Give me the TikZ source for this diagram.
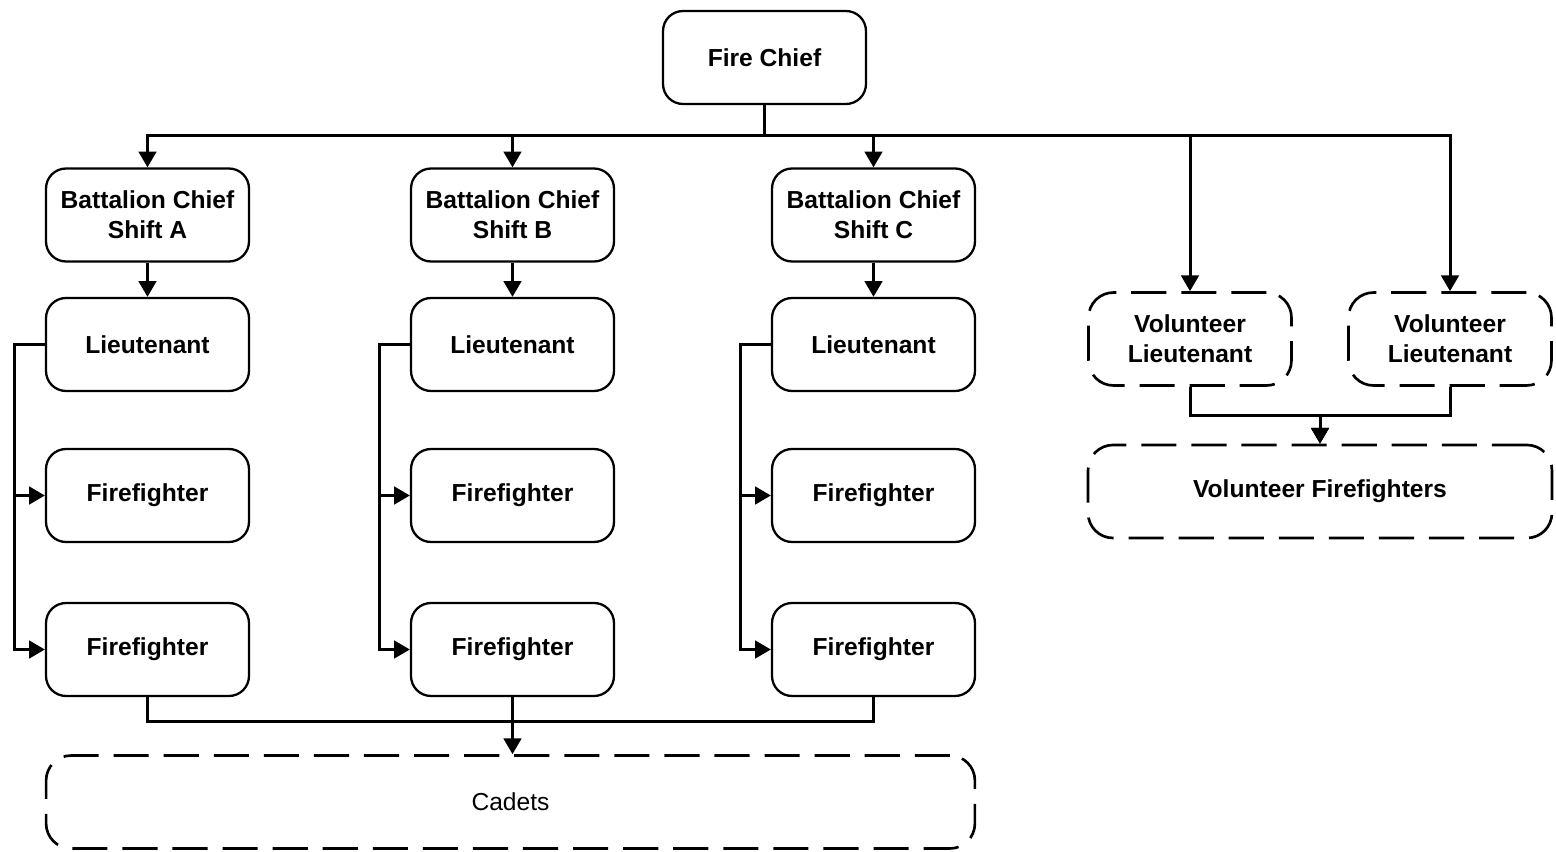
\documentclass[tikz,border=0pt]{standalone}
\usepackage{fontspec}
\setmainfont{Liberation Sans}
\usetikzlibrary{arrows.meta}
\begin{document}
\begin{tikzpicture}[x=.02cm,y=-.02cm,
	box/.style={draw,line width=1.3pt,rounded corners=.4cm,minimum width=4.06cm,minimum height=1.86cm,align=center,font=\fontsize{14}{17}\selectfont\bfseries},
	vbox/.style={box,dash pattern=on 20pt off 8.5pt,line width=1.5pt,rounded corners=.5cm},
	line/.style={line width=1.7pt},
	arr/.style={line,-{Triangle[length=9pt,width=10pt]}}]
	\useasboundingbox (0,0) rectangle (1556,852);
	%nodes%
	\node[box] (chief) at (764.5,57.5) {Fire Chief};
	\node[box] (bca) at (147.5,215) {Battalion Chief\\Shift A};
	\node[box] (bcb) at (512.5,215) {Battalion Chief\\Shift B};
	\node[box] (bcc) at (873.5,215) {Battalion Chief\\Shift C};
	\node[box] (lta) at (147.5,344.5) {Lieutenant};
	\node[box] (ltb) at (512.5,344.5) {Lieutenant};
	\node[box] (ltc) at (873.5,344.5) {Lieutenant};
	\node[box] (ffa1) at (147.5,495.5) {Firefighter};
	\node[box] (ffb1) at (512.5,495.5) {Firefighter};
	\node[box] (ffc1) at (873.5,495.5) {Firefighter};
	\node[box] (ffa2) at (147.5,649.5) {Firefighter};
	\node[box] (ffb2) at (512.5,649.5) {Firefighter};
	\node[box] (ffc2) at (873.5,649.5) {Firefighter};
	\node[vbox] (vl1) at (1190,339) {Volunteer\\Lieutenant};
	\node[vbox] (vl2) at (1450,339) {Volunteer\\Lieutenant};
	\node[vbox,minimum width=9.28cm] (vf) at (1320,491.5) {Volunteer Firefighters};
	\node[vbox,minimum width=18.58cm,font=\fontsize{14}{17}\selectfont] (cadets) at (510.5,802) {Cadets};
	%links%
	\foreach \n in {bca,bcb,bcc,vl1,vl2}
		\draw[arr] (chief.south) -- ++(0,30) -| (\n.north);
	\draw[arr] (bca) -- (lta);
	\draw[arr] (bcb) -- (ltb);
	\draw[arr] (bcc) -- (ltc);
	\foreach \c in {a,b,c} {
		\draw[arr] (lt\c.west) -- ++(-30,0) |- (ff\c1.west);
		\draw[arr] (lt\c.west) -- ++(-30,0) |- (ff\c2.west);
	}
	\draw[line] (ffa2.south) -- ++(0,24) -| (ffc2.south);
	\draw[arr] (ffb2.south) -- (ffb2.south |- cadets.north);
	\draw[arr] (vl1.south) -- ++(0,29) -| (vf.north);
	\draw[arr] (vl2.south) -- ++(0,29) -| (vf.north);
\end{tikzpicture}
\end{document}
